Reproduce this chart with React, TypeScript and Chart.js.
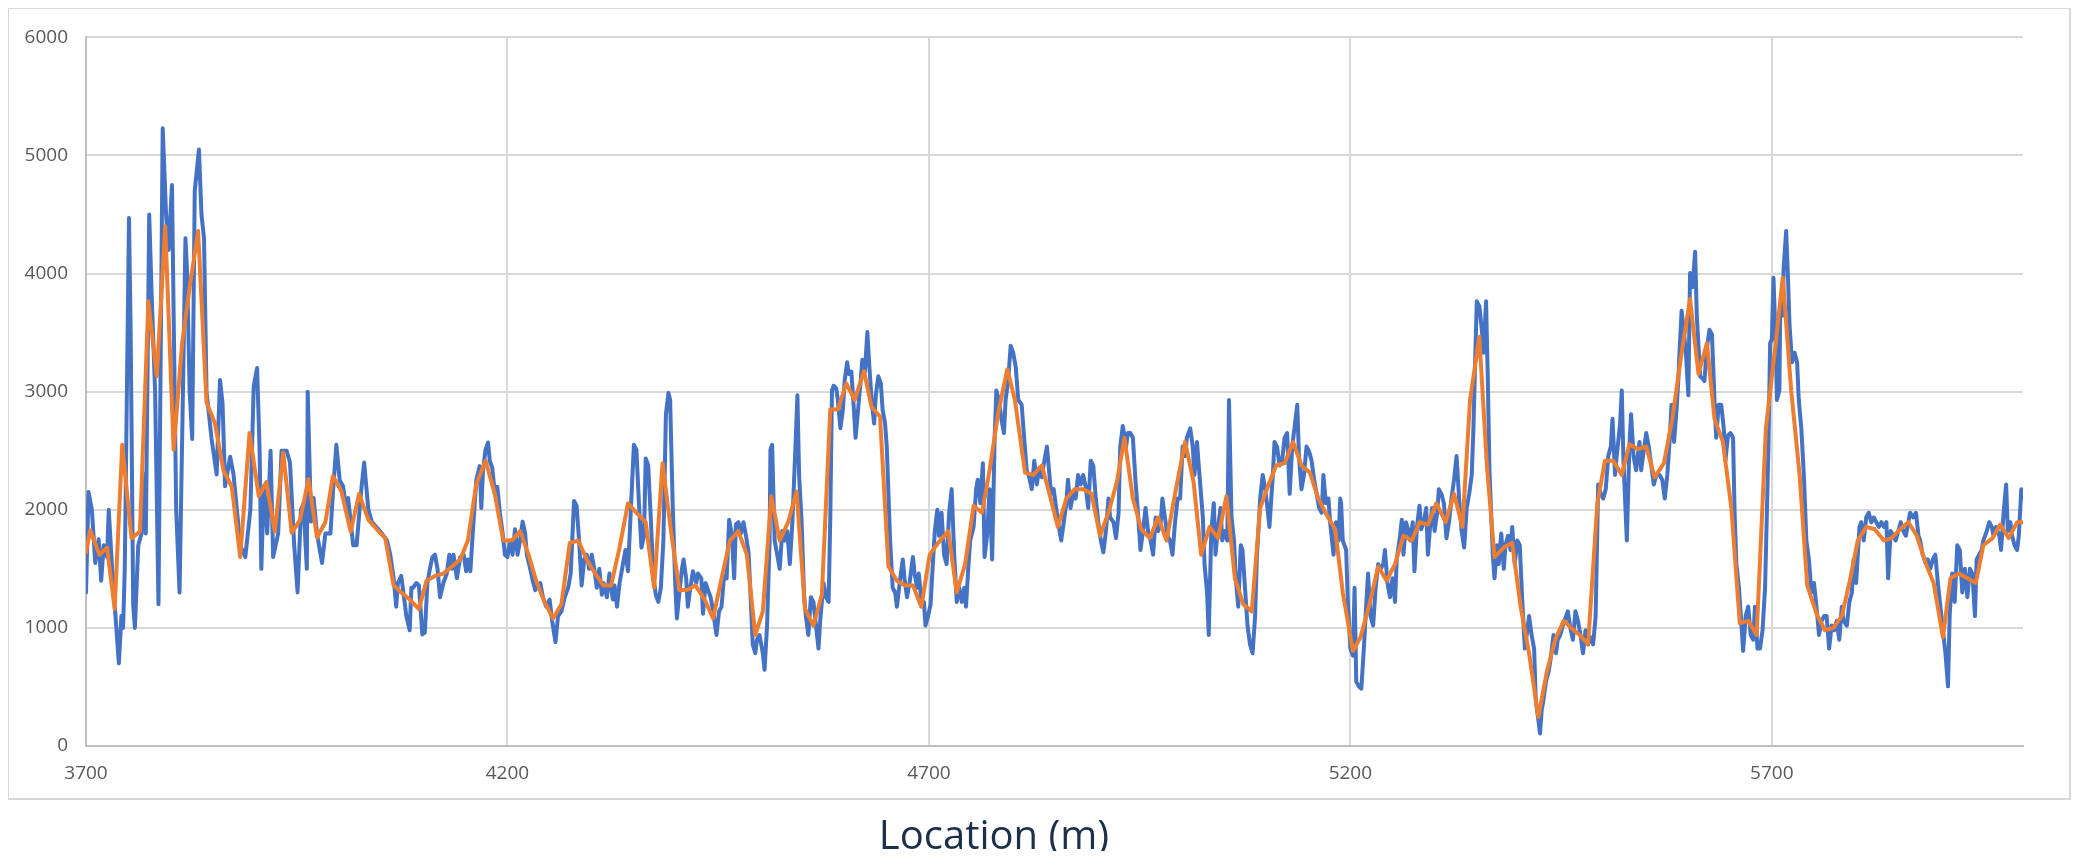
import React, { useEffect, useRef } from "react";
import { Chart, registerables } from "chart.js";

Chart.register(...registerables);

// Tick values
const xTickValues = [3700, 4200, 4700, 5200, 5700];
const xMin = 3700;
const xMax = 5998;
const yMin = 0;
const yMax = 6000;
const yStep = 1000;

// Blue series: measured values (location in m, value)
const blueLoc = [
  3700, 3703, 3707, 3711, 3715, 3718, 3721, 3725, 3727, 3731, 3734, 3739, 3742, 3744, 3746, 3751, 3753, 3756, 3758, 3762,
  3766, 3769, 3771, 3775, 3778, 3782, 3786, 3791, 3795, 3798, 3802, 3807, 3811, 3815, 3818, 3820, 3823, 3826, 3829, 3834,
  3837, 3840, 3843, 3849, 3851, 3855, 3859, 3862, 3865, 3871, 3875, 3883, 3889, 3895, 3899, 3903, 3906, 3908, 3911, 3915,
  3919, 3922, 3928, 3932, 3938, 3942, 3947, 3951, 3955, 3958, 3962, 3963, 3967, 3970, 3974, 3980, 3984, 3990, 3993, 3997,
  4001, 4005, 4009, 4011, 4017, 4021, 4027, 4030, 4035, 4039, 4045, 4051,
  4057, 4061, 4065, 4068, 4070, 4074, 4078, 4080, 4084, 4086, 4088, 4092, 4095, 4099, 4102, 4105, 4108, 4111, 4114, 4117,
  4120, 4124, 4128, 4131, 4134, 4136, 4140, 4144, 4148, 4151, 4153, 4156, 4159, 4163, 4167, 4169, 4171, 4174, 4177, 4179,
  4182, 4185, 4188, 4191, 4194, 4197, 4200, 4203, 4206, 4209, 4212, 4215, 4218, 4221, 4223, 4227, 4230, 4233, 4236, 4239,
  4242, 4246, 4250, 4253, 4257, 4260, 4264, 4268, 4272, 4275, 4279, 4282, 4285, 4288, 4291, 4294, 4297, 4300, 4303, 4306,
  4309, 4312, 4314, 4318, 4321, 4325, 4327, 4330, 4333, 4337, 4340, 4343, 4347, 4350, 4353, 4356, 4359, 4362, 4364, 4367,
  4370, 4373, 4376, 4379, 4382, 4385, 4388, 4391, 4393, 4396, 4399, 4401, 4404, 4407, 4409, 4412, 4414, 4417, 4420, 4424, 4426,
  4430, 4432, 4435, 4438, 4441, 4444, 4448, 4451, 4454, 4457, 4460, 4463, 4466, 4469, 4471, 4474, 4477, 4480, 4483, 4486,
  4488, 4491, 4494, 4496, 4499, 4503, 4505, 4508, 4511, 4512, 4514, 4517, 4520, 4523, 4526, 4529, 4532, 4535, 4538, 4541,
  4544, 4546, 4549, 4552, 4554, 4557, 4560, 4563, 4566, 4569, 4571, 4575, 4578, 4581, 4583, 4585, 4587, 4590, 4592, 4595,
  4598, 4600, 4603, 4605, 4608, 4611, 4613, 4616, 4619, 4621, 4624, 4627, 4629, 4632, 4635, 4637, 4640, 4643, 4645, 4648,
  4650, 4654, 4657, 4660, 4662, 4666, 4669, 4671, 4674, 4677, 4681, 4683, 4686, 4688, 4691, 4694, 4696, 4699, 4702, 4704,
  4707, 4710, 4712, 4715, 4718, 4721, 4724, 4727, 4730, 4733, 4736, 4739, 4742, 4744, 4747, 4749, 4753, 4756, 4758, 4761,
  4764, 4766, 4769, 4772, 4775, 4778, 4780, 4783, 4786, 4789, 4791, 4794, 4797, 4800, 4803, 4806,
  4810, 4813, 4816, 4819, 4822, 4825, 4828, 4831, 4834, 4836, 4840, 4843, 4845, 4848, 4851, 4855, 4857, 4860, 4863, 4865,
  4868, 4871, 4874, 4877, 4880, 4883, 4886, 4889, 4892, 4895, 4898, 4901, 4904, 4907, 4910, 4913, 4915, 4919, 4922, 4925,
  4927, 4930, 4934, 4936, 4939, 4942, 4945, 4948, 4951, 4954, 4957, 4960, 4963, 4966, 4969, 4972, 4975, 4977, 4980, 4983,
  4986, 4989, 4992, 4995, 4998, 5001, 5004, 5006, 5010, 5013, 5015, 5018, 5021, 5025, 5027, 5030, 5032, 5035, 5038, 5040,
  5043, 5046, 5048, 5051, 5054, 5056, 5059, 5062, 5064, 5067, 5070, 5072, 5075, 5078, 5081, 5084, 5087, 5089, 5093, 5096,
  5099, 5101, 5104, 5108, 5110, 5113, 5116, 5119, 5122, 5125, 5128, 5131, 5134, 5137, 5139, 5142, 5145, 5148, 5151, 5154,
  5157, 5160, 5163, 5166, 5168, 5171, 5174, 5176, 5180, 5183, 5186,
  5188, 5189, 5191, 5195, 5197, 5200, 5203, 5205, 5207, 5210, 5213, 5216, 5219, 5221, 5224, 5227, 5230, 5233, 5236, 5239,
  5241, 5244, 5247, 5250, 5253, 5255, 5259, 5261, 5263, 5266, 5269, 5271, 5274, 5276, 5279, 5282, 5284, 5287, 5290, 5292,
  5295, 5297, 5300, 5303, 5305, 5308, 5311, 5314, 5317, 5320, 5323, 5326, 5329, 5332, 5335, 5338, 5341, 5344, 5346, 5348,
  5350, 5353, 5356, 5358, 5361, 5363, 5365, 5369, 5371, 5374, 5376, 5379, 5382, 5384, 5387, 5390, 5392, 5395, 5398, 5401,
  5404, 5407, 5410, 5412, 5415, 5418, 5420, 5423, 5425, 5427, 5429, 5432, 5435, 5437, 5441, 5444, 5446, 5449, 5452, 5456,
  5458, 5461, 5464, 5467, 5470, 5473, 5476, 5479, 5482, 5485, 5488, 5491, 5494, 5497, 5500, 5503, 5506, 5509, 5511, 5514,
  5516, 5520, 5522, 5524, 5528, 5531, 5533, 5536, 5539, 5543, 5545, 5548, 5551, 5554, 5557, 5560, 5563,
  5567, 5570, 5573, 5576, 5579, 5581, 5584, 5587, 5589, 5591, 5593, 5596, 5598, 5601, 5603, 5606, 5609, 5611, 5615, 5618,
  5620, 5623, 5626, 5629, 5632, 5634, 5637, 5640, 5643, 5645, 5648, 5651, 5654, 5656, 5658, 5661, 5664, 5666, 5669, 5672,
  5675, 5678, 5680, 5683, 5686, 5689, 5692, 5694, 5696, 5698, 5700, 5702, 5705, 5706, 5709, 5710, 5713, 5714, 5717, 5719,
  5721, 5724, 5727, 5730, 5732, 5735, 5738, 5741, 5744, 5747, 5750, 5753, 5756, 5759, 5762, 5765, 5768, 5771, 5774, 5777,
  5780, 5783, 5785, 5789, 5792, 5795, 5797, 5800, 5804, 5806, 5809, 5812, 5815, 5818, 5821, 5824, 5827, 5830, 5833, 5836,
  5838, 5841, 5844, 5847, 5850, 5853, 5856, 5859, 5862, 5864, 5868, 5871, 5874, 5876, 5879, 5883, 5885, 5888, 5891, 5894,
  5897, 5900, 5903, 5906, 5909, 5911, 5914, 5917, 5920, 5923, 5926, 5929, 5932, 5935, 5938, 5941, 5943, 5946, 5949, 5951,
  5955, 5958, 5961, 5963, 5966, 5970, 5972, 5975, 5978, 5980, 5983, 5985, 5988, 5991, 5993, 5996, 5998,
];

const blueVal = [
  1300, 2150, 2000, 1550, 1750, 1400, 1700, 1600, 2000, 1500, 1200, 700, 1100, 1000, 1500, 4470, 3500, 1200, 1000, 1700,
  1800, 2300, 1800, 4500, 3800, 3000, 1200, 5230, 4500, 4200, 4750, 2000, 1300, 3000, 4300, 4000, 3000, 2600, 4700, 5050,
  4500, 4300, 3000, 2600, 2500, 2300, 3100, 2900, 2200, 2450, 2300, 1700, 1600, 2000, 3050, 3200, 2500, 1500, 2200, 1800,
  2500, 1600, 1800, 2500, 2500, 2400, 1700, 1300, 2000, 2050, 1500, 3000, 1900, 2100, 1800, 1550, 1800, 1800, 2150, 2550,
  2250, 2200, 2000, 2100, 1700, 1700, 2200, 2400, 2000, 1900, 1850, 1800,
  1740, 1620, 1420, 1180, 1380, 1440, 1220, 1100, 980, 1340, 1340, 1380, 1360, 945, 960, 1380, 1500, 1600, 1620, 1500,
  1260, 1380, 1460, 1620, 1500, 1620, 1420, 1600, 1620, 1480, 1580, 1480, 1820, 2250, 2370, 2015, 2335, 2510, 2570, 2415,
  2355, 2135, 2195, 1975, 1820, 1620, 1600, 1740, 1620, 1835, 1620, 1740, 1900, 1800, 1620, 1500, 1400, 1320, 1360, 1380,
  1260, 1180, 1240, 1060, 880, 1100, 1140, 1260, 1340, 1460, 2075, 2035, 1740, 1360, 1580, 1620, 1500, 1620, 1500, 1340,
  1500, 1280, 1380, 1260, 1460, 1240, 1360, 1180, 1380, 1540, 1660, 1480, 2095, 2550, 2510, 2055, 1680, 1780, 2435, 2375,
  1935, 1440, 1280, 1220, 1340, 1740, 2810, 2990, 2930, 2055, 1380, 1080, 1300, 1500, 1580, 1420, 1180, 1340, 1480, 1380, 1460,
  1420, 1120, 1380, 1320, 1260, 1140, 940, 1140, 1180, 1440, 1420, 1915, 1800, 1420, 1875, 1895, 1800, 1895, 1780, 1640,
  1340, 860, 785, 900, 940, 785, 645, 1020, 1740, 2510, 2550, 1740, 1620, 1500, 1820, 1740, 1820, 1540, 1895, 2415,
  2970, 2295, 1895, 1260, 1100, 940, 1260, 1220, 1020, 825, 1060, 1380, 1260, 1220, 1935, 3010, 3050, 3030, 2930, 2690,
  2850, 3090, 3250, 3150, 3170, 2850, 2610, 2850, 3090, 3270, 3170, 3505, 3250, 2930, 2730, 2970, 3130, 3070, 2850, 2730,
  2535, 1740, 1340, 1300, 1180, 1420, 1580, 1420, 1260, 1380, 1600, 1460, 1340, 1460, 1240, 1220, 1020, 1100, 1200, 1460,
  1820, 2000, 1780, 1975, 1620, 1540, 1975, 2175, 1620, 1220, 1340, 1220, 1340, 1180, 1540, 1740, 1855, 2175, 2255, 2055,
  2395, 1600, 1780, 2175, 1580, 2610, 3010, 2930, 2770, 2650, 2930, 3090, 3390, 3330, 3210, 2930,
  2890, 2610, 2335, 2275, 2175, 2415, 2215, 2355, 2275, 2375, 2535, 2295, 2135, 2175, 2015, 1820, 1740, 1895, 2055, 2255,
  2015, 2135, 2095, 2295, 2215, 2295, 2195, 2015, 2415, 2375, 2095, 1895, 1740, 1640, 1820, 2095, 1935, 1895, 1760, 1975,
  2535, 2710, 2535, 2650, 2650, 2610, 2255, 1975, 1660, 1820, 2015, 1820, 1740, 1620, 1935, 1820, 1895, 2095, 1935, 1780,
  1740, 1620, 1895, 2095, 2095, 2535, 2455, 2610, 2690, 2535, 2295, 2575, 2295, 1935, 1540, 1300, 940, 1820, 2055, 1620,
  1855, 2015, 1740, 1820, 1740, 2930, 1935, 1740, 1420, 1180, 1700, 1660, 1340, 1020, 860, 785, 1100, 1580, 2095, 2295,
  2175, 2055, 1855, 2295, 2575, 2535, 2375, 2415, 2610, 2650, 2135, 2535, 2710, 2890, 2455, 2175, 2295, 2535, 2495, 2415,
  2255, 2135, 2015, 1975, 2295, 2055, 2095, 1895, 1620, 1895, 1740,
  2095, 2055, 1740, 1660, 1220, 825, 765, 1340, 545, 505, 485, 825, 1220, 1460, 1100, 1020, 1340, 1540, 1500, 1540,
  1660, 1380, 1260, 1420, 1220, 1580, 1780, 1915, 1620, 1895, 1820, 1740, 1895, 1480, 1855, 2035, 1835, 1895, 2015, 1620,
  1895, 2015, 1820, 1975, 2175, 2135, 2055, 1760, 1895, 2095, 2255, 2455, 2095, 1820, 1680, 2015, 2135, 2295, 2690, 3250,
  3765, 3725, 3525, 3330, 3765, 3130, 2335, 1620, 1420, 1700, 1540, 1800, 1500, 1700, 1780, 1660, 1855, 1540, 1740, 1700,
  1220, 825, 980, 1100, 940, 825, 385, 225, 105, 305, 385, 545, 625, 705, 940, 785, 900, 940, 1020, 1100,
  1140, 1000, 900, 1140, 1060, 940, 785, 980, 860, 920, 860, 1100, 2215, 2135, 2095, 2175, 2455, 2535, 2770, 2295,
  2455, 2730, 3010, 2415, 1740, 2535, 2810, 2455, 2335, 2575, 2335, 2495, 2650, 2535, 2375, 2215, 2295,
  2295, 2255, 2095, 2295, 2610, 2890, 2575, 2850, 3090, 3410, 3685, 3485, 3330, 2970, 4005, 3885, 4185, 3645, 3130, 3110,
  3090, 3370, 3525, 3485, 2930, 2610, 2890, 2890, 2690, 2415, 2630, 2650, 2610, 1935, 1540, 1340, 1020, 805, 1100, 1180,
  940, 900, 1180, 825, 825, 980, 1340, 1935, 2535, 3410, 3445, 3965, 3330, 2930, 3010, 3725, 3645, 4045, 4360, 4005,
  3565, 3250, 3330, 3250, 2930, 2690, 2295, 1740, 1580, 1300, 1380, 1180, 940, 1060, 1100, 1100, 825, 1020, 980, 1060,
  900, 1180, 1060, 1020, 1220, 1300, 1580, 1380, 1855, 1895, 1740, 1935, 1975, 1895, 1935, 1895, 1855, 1895, 1855, 1895,
  1420, 1820, 1780, 1740, 1820, 1895, 1820, 1780, 1895, 1975, 1935, 1975, 1780, 1740, 1620, 1540, 1580, 1500, 1580, 1620,
  1380, 1180, 980, 785, 505, 1100, 1460, 1220, 1700, 1660, 1300, 1500, 1260, 1500, 1460, 1100, 1580, 1620, 1660, 1740,
  1820, 1895, 1855, 1780, 1855, 1780, 1660, 1975, 2215, 1820, 1895, 1780, 1700, 1660, 1780, 2175, 2095,
];

// Orange series (smoothed): measured values
const orangeLoc = [
  3700, 3705, 3716, 3725, 3734, 3743, 3754, 3764, 3774, 3784, 3794, 3804, 3814, 3823, 3833, 3843, 3853, 3863, 3873, 3883,
  3894, 3905, 3914, 3924, 3934, 3944, 3954, 3964, 3974, 3984, 3993, 4003, 4014, 4024, 4035, 4045, 4055,
  4065, 4074, 4084, 4095, 4104, 4114, 4124, 4134, 4144, 4153, 4163, 4174, 4185, 4195, 4205, 4215, 4225, 4234, 4244, 4254,
  4264, 4274, 4284, 4294, 4304, 4314, 4323, 4333, 4343, 4353, 4364, 4374, 4384, 4394, 4404, 4413, 4423, 4434,
  4444, 4454, 4464, 4474, 4484, 4494, 4503, 4513, 4523, 4533, 4543, 4553, 4563, 4573, 4583, 4592, 4602, 4612, 4623, 4632,
  4642, 4652, 4662, 4672, 4681, 4691, 4701, 4711, 4723, 4733, 4743, 4753, 4763, 4772, 4782, 4793, 4802,
  4814, 4824, 4834, 4843, 4853, 4863, 4873, 4883, 4893, 4903, 4913, 4923, 4932, 4942, 4952, 4962, 4972, 4982, 4992, 5004,
  5014, 5023, 5033, 5043, 5053, 5063, 5073, 5083, 5093, 5102, 5112, 5122, 5132, 5142, 5152, 5162, 5172, 5182,
  5191, 5203, 5212, 5222, 5233, 5243, 5253, 5263, 5273, 5282, 5292, 5302, 5313, 5323, 5333, 5342, 5353, 5362, 5371, 5382,
  5392, 5402, 5412, 5423, 5433, 5443, 5453, 5462, 5472, 5482, 5493, 5502, 5512, 5522, 5531, 5541, 5551, 5561,
  5572, 5582, 5593, 5603, 5613, 5623, 5632, 5642, 5652, 5662, 5672, 5682, 5693, 5704, 5713, 5723, 5733, 5742, 5753, 5763,
  5773, 5783, 5792, 5802, 5812, 5822, 5833, 5842, 5852, 5862, 5872, 5883, 5892, 5903, 5912, 5922, 5932, 5942, 5951, 5962,
  5971, 5981, 5991, 5998,
];

const orangeVal = [
  1640, 1825, 1620, 1680, 1160, 2550, 1760, 1815, 3765, 3130, 4400, 2510, 3410, 3885, 4360, 2910, 2730, 2335, 2195, 1600,
  2650, 2115, 2235, 1815, 2485, 1805, 1915, 2260, 1765, 1895, 2285, 2155, 1815, 2135, 1915, 1835, 1760,
  1360, 1300, 1240, 1160, 1400, 1440, 1460, 1520, 1580, 1740, 2215, 2415, 2135, 1740, 1740, 1820, 1620, 1400, 1220, 1080,
  1200, 1720, 1740, 1580, 1460, 1360, 1360, 1680, 2055, 1975, 1895, 1340, 2395, 1820, 1320, 1320, 1360, 1240,
  1080, 1420, 1740, 1820, 1620, 940, 1140, 2115, 1740, 1895, 2155, 1160, 1020, 1280, 2850, 2850, 3070, 2930, 3175, 2870,
  2790, 1520, 1400, 1360, 1360, 1180, 1620, 1720, 1820, 1300, 1540, 2035, 1975, 2335, 2810, 3190, 2930,
  2315, 2295, 2375, 2135, 1855, 2095, 2175, 2175, 2135, 1780, 1975, 2235, 2610, 2095, 1835, 1760, 1935, 1740, 2135, 2575,
  2235, 1620, 1855, 1760, 2115, 1420, 1200, 1140, 2015, 2195, 2375, 2395, 2575, 2375, 2315, 2095, 1955, 1835,
  1300, 805, 920, 1180, 1520, 1400, 1540, 1780, 1740, 1895, 1875, 2055, 1895, 2135, 1855, 2930, 3465, 2375, 1600, 1680,
  1720, 1180, 785, 245, 625, 900, 1060, 1000, 940, 860, 2055, 2415, 2415, 2295, 2555, 2515, 2535, 2275,
  2395, 2770, 3330, 3785, 3150, 3410, 2770, 2575, 2015, 1040, 1060, 940, 2690, 3370, 3965, 3010, 2295, 1360, 1120, 980,
  1000, 1100, 1380, 1740, 1855, 1835, 1740, 1760, 1835, 1895, 1780, 1540, 1380, 920, 1420, 1460, 1420, 1380, 1700, 1760,
  1875, 1760, 1895, 1895,
];

const titleText = "Location (m)";

const tickFont = { family: "'Open Sans', 'Noto Sans', sans-serif", size: 19 };

export default function App() {
  const canvasRef = useRef<HTMLCanvasElement | null>(null);

  useEffect(() => {
    if (!canvasRef.current) return;
    const blueData = blueLoc.map((x, i) => ({ x, y: blueVal[i] }));
    const orangeData = orangeLoc.map((x, i) => ({ x, y: orangeVal[i] }));

    const chart = new Chart(canvasRef.current, {
      type: "line",
      data: {
        datasets: [
          {
            label: "Smoothed",
            data: orangeData,
            borderColor: "#ED7D31",
            backgroundColor: "#ED7D31",
            borderWidth: 4,
            pointRadius: 0,
            tension: 0,
            borderJoinStyle: "round",
            borderCapStyle: "round",
            order: 1,
          },
          {
            label: "Measured",
            data: blueData,
            borderColor: "#4472C4",
            backgroundColor: "#4472C4",
            borderWidth: 4,
            pointRadius: 0,
            tension: 0,
            borderJoinStyle: "round",
            borderCapStyle: "round",
            order: 2,
          },
        ],
      },
      options: {
        animation: false,
        responsive: false,
        maintainAspectRatio: false,
        events: [],
        layout: { padding: { left: 0, right: 50, top: 24, bottom: 55 } },
        plugins: {
          legend: { display: false },
          tooltip: { enabled: false },
        },
        scales: {
          x: {
            type: "linear",
            min: xMin,
            max: xMax,
            afterBuildTicks: (scale: any) => {
              scale.ticks = xTickValues.map((v) => ({ value: v }));
            },
            afterFit: (scale: any) => {
              scale.height = 50;
            },
            grid: { color: "#d9d9d9", lineWidth: 2, drawTicks: false },
            border: { display: true, color: "#bfbfbf", width: 2 },
            ticks: {
              padding: 16,
              color: "#595959",
              font: tickFont,
              maxRotation: 0,
              autoSkip: false,
              callback: (v: any) => String(v),
            },
          },
          y: {
            type: "linear",
            min: yMin,
            max: yMax,
            afterFit: (scale: any) => {
              scale.width = 78;
            },
            grid: { color: "#d9d9d9", lineWidth: 2, drawTicks: false },
            border: { display: true, color: "#bfbfbf", width: 2 },
            ticks: {
              stepSize: yStep,
              padding: 18,
              color: "#595959",
              font: tickFont,
              callback: (v: any) => String(v),
            },
          },
        },
      },
    });
    return () => chart.destroy();
  }, []);

  return (
    <div style={{ position: "relative", width: 2065, height: 843 }}>
      <div
        style={{
          position: "absolute",
          left: -1,
          top: -1,
          width: 2064,
          height: 793,
          border: "2px solid #d9d9d9",
          boxSizing: "border-box",
        }}
      />
      <canvas
        ref={canvasRef}
        width={2065}
        height={843}
        style={{ position: "absolute", left: 0, top: 0, display: "block", width: 2065, height: 843 }}
      />
      <div
        style={{
          position: "absolute",
          left: 836,
          top: 806,
          width: 300,
          textAlign: "center",
          fontFamily: "'Open Sans', 'Noto Sans', sans-serif",
          fontSize: 40,
          lineHeight: "40px",
          color: "#1c304c",
          whiteSpace: "nowrap",
        }}
      >
        {titleText}
      </div>
    </div>
  );
}
